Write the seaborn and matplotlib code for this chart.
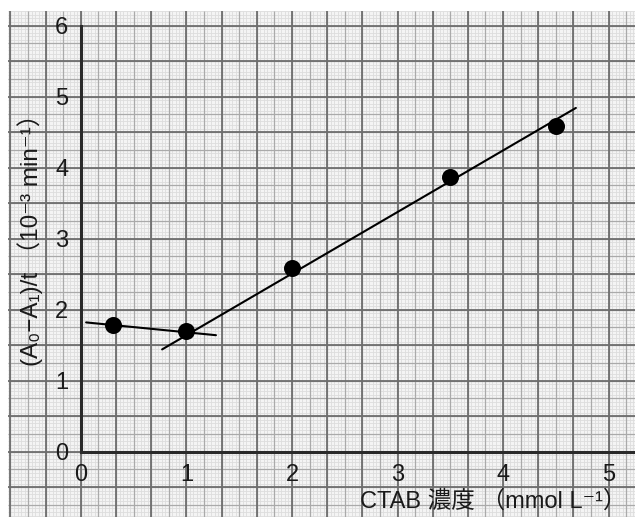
import numpy as np
import matplotlib
matplotlib.use("Agg")
import matplotlib.pyplot as plt
import seaborn as sns
import pandas as pd

# ---- data ----
ctab = [0.3, 1.0, 2.0, 3.5, 4.5]
rate = [1.79, 1.70, 2.58, 3.87, 4.58]
fit1_x = [0.05, 1.28]
fit1_y = [1.82, 1.64]
fit2_x = [0.77, 4.69]
fit2_y = [1.44, 4.84]
xticks = [0, 1, 2, 3, 4, 5]
yticks = [0, 1, 2, 3, 4, 5, 6]
xlabel = "CTAB 濃度 （mmol L⁻¹）"
ylabel = "(A₀−A₁)/t （10⁻³ min⁻¹）"

sns.set_style("white")
FAMS = ['Liberation Sans', 'DejaVu Sans', 'Noto Sans CJK JP']
plt.rcParams['font.family'] = FAMS

fig = plt.figure(figsize=(6.35, 5.17), dpi=100)
ax = fig.add_axes([8/635, 0, 1 - 8/635, (517-11)/517])

xmin, xmax = -0.69, 5.25
ymin, ymax = -0.92, 6.205
ax.set_xlim(xmin, xmax)
ax.set_ylim(ymin, ymax)
ax.set_facecolor('#f4f4f4')

# graph paper
def grid_lines(step_x, step_y, color, lw):
    gx = np.arange(np.ceil(xmin/step_x)*step_x, xmax, step_x)
    gy = np.arange(np.ceil(ymin/step_y)*step_y, ymax, step_y)
    ax.vlines(gx, ymin, ymax, colors=color, lw=lw, zorder=0)
    ax.hlines(gy, xmin, xmax, colors=color, lw=lw, zorder=0)

grid_lines(1/30, 0.05, '#dddddd', 0.6)
grid_lines(1/6, 0.25, '#aaaaaa', 0.9)
grid_lines(1/3, 0.5, '#6e6e6e', 1.3)

# axes lines
for s in ['top', 'right']:
    ax.spines[s].set_visible(False)
ax.spines['left'].set_position(('data', 0))
ax.spines['bottom'].set_position(('data', 0))
ax.spines['left'].set_bounds(0, 6)
ax.spines['bottom'].set_bounds(0, xmax)
for s in ['left', 'bottom']:
    ax.spines[s].set_linewidth(2.2)
    ax.spines[s].set_color('#2a2a2a')
    ax.spines[s].set_zorder(3)

ax.set_xticks(xticks)
ax.set_yticks(yticks)
ax.tick_params(axis='both', direction='in', length=7, width=1.5, color='#2a2a2a',
               labelsize=17, labelcolor='#1a1a1a')
ax.tick_params(axis='x', pad=9)
ax.tick_params(axis='y', pad=9)

# data
df = pd.DataFrame({'ctab': ctab, 'rate': rate})
ax.plot(fit1_x, fit1_y, color='black', lw=1.5, zorder=4)
ax.plot(fit2_x, fit2_y, color='black', lw=1.5, zorder=4)
sns.scatterplot(data=df, x='ctab', y='rate', ax=ax, color='black', s=150,
                edgecolor='black', linewidth=0, zorder=5, legend=False)

ax.set_xlabel('')
ax.set_ylabel('')
fig.text(493/635, 1 - 501/517, xlabel, ha='center', va='center', fontsize=17,
         color='#1a1a1a', family=FAMS)
fig.text(30/635, 1 - 234/517, ylabel, ha='center', va='center', fontsize=17.5,
         rotation=90, color='#1a1a1a', family=FAMS)

fig.savefig('out.png', dpi=100)
